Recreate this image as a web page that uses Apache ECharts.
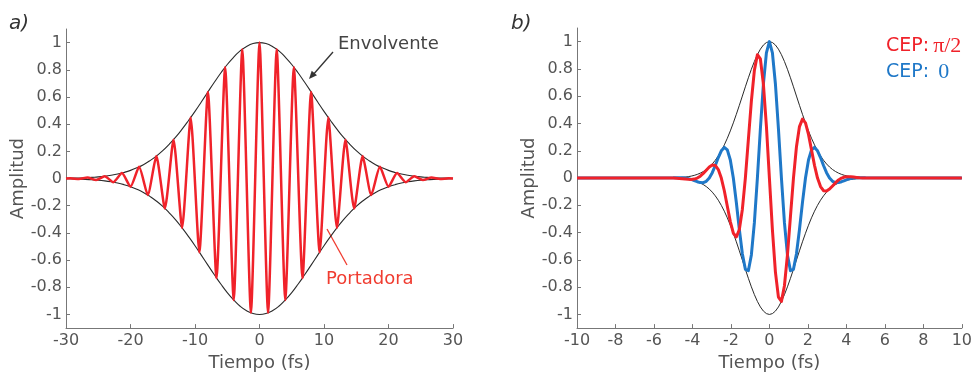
<!DOCTYPE html>
<html><head><meta charset="utf-8">
<script src="https://cdn.jsdelivr.net/npm/echarts@6/dist/echarts.min.js"></script>
<style>html,body{margin:0;padding:0;background:#fff}#c{width:975px;height:377px}</style>
</head><body><div id="c"></div>
<script>
// ---- Panel a) ----
const envA_t = [-30,-29,-28,-27,-26,-25,-24,-23,-22,-21,-20,-19,-18,-17,-16,-15,-14,-13,-12,-11,-10,-9,-8,-7,-6,-5,-4,-3,-2,-1,0,1,2,3,4,5,6,7,8,9,10,11,12,13,14,15,16,17,18,19,20,21,22,23,24,25,26,27,28,29,30];
const envA_up = [0.002,0.003,0.004,0.006,0.009,0.012,0.017,0.024,0.033,0.045,0.060,0.079,0.102,0.131,0.165,0.205,0.252,0.304,0.363,0.427,0.494,0.565,0.637,0.708,0.776,0.839,0.893,0.939,0.972,0.993,1,0.993,0.972,0.939,0.893,0.839,0.776,0.708,0.637,0.565,0.494,0.427,0.363,0.304,0.252,0.205,0.165,0.131,0.102,0.079,0.060,0.045,0.033,0.024,0.017,0.012,0.009,0.006,0.004,0.003,0.002];
const envA_low = [-0.002,-0.003,-0.004,-0.006,-0.009,-0.012,-0.017,-0.024,-0.033,-0.045,-0.060,-0.079,-0.102,-0.131,-0.165,-0.205,-0.252,-0.304,-0.363,-0.427,-0.494,-0.565,-0.637,-0.708,-0.776,-0.839,-0.893,-0.939,-0.972,-0.993,-1,-0.993,-0.972,-0.939,-0.893,-0.839,-0.776,-0.708,-0.637,-0.565,-0.494,-0.427,-0.363,-0.304,-0.252,-0.205,-0.165,-0.131,-0.102,-0.079,-0.060,-0.045,-0.033,-0.024,-0.017,-0.012,-0.009,-0.006,-0.004,-0.003,-0.002];
const carrierA_t = [-30,-29.33,-28,-26.67,-25.33,-24,-22.67,-21.33,-20,-18.67,-17.33,-16,-14.67,-13.33,-12,-10.67,-9.33,-8,-6.67,-5.33,-4,-2.67,-1.33,0,1.33,2.67,4,5.33,6.67,8,9.33,10.67,12,13.33,14.67,16,17.33,18.67,20,21.33,22.67,24,25.33,26.67,28,29.33,30];
const carrierA = [0,0.002,-0.004,0.007,-0.011,0.017,-0.027,0.040,-0.060,0.086,-0.121,0.165,-0.220,0.286,-0.363,0.449,-0.542,0.637,-0.731,0.819,-0.893,0.951,-0.988,1,-0.988,0.951,-0.893,0.819,-0.731,0.637,-0.542,0.449,-0.363,0.286,-0.220,0.165,-0.121,0.086,-0.060,0.040,-0.027,0.017,-0.011,0.007,-0.004,0.002,0];

// ---- Panel b) ----
const tB = [-10,-5,-4.84375,-4.6875,-4.53125,-4.375,-4.21875,-4.0625,-3.90625,-3.75,-3.59375,-3.4375,-3.28125,-3.125,-2.96875,-2.8125,-2.65625,-2.5,-2.34375,-2.1875,-2.03125,-1.875,-1.71875,-1.5625,-1.40625,-1.25,-1.09375,-0.9375,-0.78125,-0.625,-0.46875,-0.3125,-0.15625,0,0.15625,0.3125,0.46875,0.625,0.78125,0.9375,1.09375,1.25,1.40625,1.5625,1.71875,1.875,2.03125,2.1875,2.34375,2.5,2.65625,2.8125,2.96875,3.125,3.28125,3.4375,3.59375,3.75,3.90625,4.0625,4.21875,4.375,4.53125,4.6875,4.84375,5,10];
const envB_up = [0,0.0016,0.0024,0.0035,0.0051,0.0072,0.0102,0.0143,0.0197,0.0268,0.0360,0.0477,0.0625,0.0809,0.1034,0.1305,0.1626,0.2000,0.2431,0.2917,0.3457,0.4045,0.4674,0.5334,0.6010,0.6688,0.7349,0.7975,0.8546,0.9043,0.9450,0.9752,0.9937,1,0.9937,0.9752,0.9450,0.9043,0.8546,0.7975,0.7349,0.6688,0.6010,0.5334,0.4674,0.4045,0.3457,0.2917,0.2431,0.2000,0.1626,0.1305,0.1034,0.0809,0.0625,0.0477,0.0360,0.0268,0.0197,0.0143,0.0102,0.0072,0.0051,0.0035,0.0024,0.0016,0];
const envB_low = [0,-0.0016,-0.0024,-0.0035,-0.0051,-0.0072,-0.0102,-0.0143,-0.0197,-0.0268,-0.0360,-0.0477,-0.0625,-0.0809,-0.1034,-0.1305,-0.1626,-0.2000,-0.2431,-0.2917,-0.3457,-0.4045,-0.4674,-0.5334,-0.6010,-0.6688,-0.7349,-0.7975,-0.8546,-0.9043,-0.9450,-0.9752,-0.9937,-1,-0.9937,-0.9752,-0.9450,-0.9043,-0.8546,-0.7975,-0.7349,-0.6688,-0.6010,-0.5334,-0.4674,-0.4045,-0.3457,-0.2917,-0.2431,-0.2000,-0.1626,-0.1305,-0.1034,-0.0809,-0.0625,-0.0477,-0.0360,-0.0268,-0.0197,-0.0143,-0.0102,-0.0072,-0.0051,-0.0035,-0.0024,-0.0016,0];
const cep0 = [0,0.0016,0.0022,0.0025,0.0019,0,-0.0039,-0.0101,-0.0182,-0.0268,-0.0332,-0.0338,-0.0239,0,0.0396,0.0923,0.1502,0.2000,0.2246,0.2063,0.1323,0,-0.1789,-0.3772,-0.5552,-0.6688,-0.6789,-0.5639,-0.3270,0,0.3616,0.6896,0.9181,1,0.9181,0.6896,0.3616,0,-0.3270,-0.5639,-0.6789,-0.6688,-0.5552,-0.3772,-0.1789,0,0.1323,0.2063,0.2246,0.2000,0.1502,0.0923,0.0396,0,-0.0239,-0.0338,-0.0332,-0.0268,-0.0182,-0.0101,-0.0039,0,0.0019,0.0025,0.0022,0.0016,0];
const cepPi2 = [0,0,-0.0009,-0.0025,-0.0047,-0.0072,-0.0095,-0.0101,-0.0075,0,0.0138,0.0338,0.0578,0.0809,0.0955,0.0923,0.0622,0,-0.0930,-0.2063,-0.3193,-0.4045,-0.4318,-0.3772,-0.2300,0,0.2812,0.5639,0.7895,0.9043,0.8731,0.6896,0.3803,0,-0.3803,-0.6896,-0.8731,-0.9043,-0.7895,-0.5639,-0.2812,0,0.2300,0.3772,0.4318,0.4045,0.3193,0.2063,0.0930,0,-0.0622,-0.0923,-0.0955,-0.0809,-0.0578,-0.0338,-0.0138,0,0.0075,0.0101,0.0095,0.0072,0.0047,0.0025,0.0009,0,0];

// ---- Ticks ----
const yTicks = [-1,-0.8,-0.6,-0.4,-0.2,0,0.2,0.4,0.6,0.8,1];

const FONT = 'DejaVu Sans';
const RED = '#f0222a';
const BLUE = '#1f78c8';
const ENV = '#2a2a2a';

const pairs = (xs, ys) => xs.map((x, i) => [x, ys[i]]);

function xAx(idx, min, max, interval) {
  return {
    type: 'value', gridIndex: idx, min: min, max: max, interval: interval,
    name: 'Tiempo (fs)', nameLocation: 'middle', nameGap: 25,
    nameTextStyle: { fontFamily: FONT, fontSize: 18, color: '#555' },
    axisLine: { show: true, onZero: false, lineStyle: { color: '#777', width: 1 } },
    axisTick: { show: true, inside: true, length: 4, lineStyle: { color: '#777' } },
    axisLabel: { fontFamily: FONT, fontSize: 16, color: '#555', margin: 5 },
    splitLine: { show: false }
  };
}
function yAx(idx) {
  return {
    type: 'value', gridIndex: idx, min: -1.1, max: 1.1,
    name: 'Amplitud', nameLocation: 'middle', nameGap: 35, nameRotate: 90,
    nameTextStyle: { fontFamily: FONT, fontSize: 18, color: '#555' },
    axisLine: { show: true, onZero: false, lineStyle: { color: '#777', width: 1 } },
    axisTick: { show: true, inside: true, length: 4, customValues: yTicks, lineStyle: { color: '#777' } },
    axisLabel: { fontFamily: FONT, fontSize: 16, color: '#555', margin: 4, customValues: yTicks },
    splitLine: { show: false }
  };
}

const chart = echarts.init(document.getElementById('c'), null, { renderer: 'canvas' });
chart.setOption({
  animation: false,
  backgroundColor: '#fff',
  grid: [
    { left: 66, right: 522, top: 29, bottom: 43 },
    { left: 577, right: 11, top: 28, bottom: 44 }
  ],
  xAxis: [xAx(0, -30, 30, 10), xAx(1, -10, 10, 2)],
  yAxis: [yAx(0), yAx(1)],
  series: [
    { type: 'line', xAxisIndex: 0, yAxisIndex: 0, data: pairs(envA_t, envA_up), smooth: true, showSymbol: false, lineStyle: { color: ENV, width: 1.1 }, z: 2 },
    { type: 'line', xAxisIndex: 0, yAxisIndex: 0, data: pairs(envA_t, envA_low), smooth: true, showSymbol: false, lineStyle: { color: ENV, width: 1.1 }, z: 2 },
    { type: 'line', xAxisIndex: 0, yAxisIndex: 0, data: pairs(carrierA_t, carrierA), smooth: 0.2, showSymbol: false, lineStyle: { color: RED, width: 2.5 }, z: 3 },
    { type: 'line', xAxisIndex: 1, yAxisIndex: 1, data: pairs(tB, envB_up), smooth: false, showSymbol: false, lineStyle: { color: ENV, width: 1 }, z: 2 },
    { type: 'line', xAxisIndex: 1, yAxisIndex: 1, data: pairs(tB, envB_low), smooth: false, showSymbol: false, lineStyle: { color: ENV, width: 1 }, z: 2 },
    { type: 'line', xAxisIndex: 1, yAxisIndex: 1, data: pairs(tB, cep0), smooth: false, showSymbol: false, lineStyle: { color: BLUE, width: 3, join: 'round' }, z: 3 },
    { type: 'line', xAxisIndex: 1, yAxisIndex: 1, data: pairs(tB, cepPi2), smooth: false, showSymbol: false, lineStyle: { color: RED, width: 3, join: 'round' }, z: 4 }
  ],
  graphic: [
    { type: 'text', left: 9, top: 14, style: { text: 'a)', font: 'italic 20px "DejaVu Sans"', fill: '#333' } },
    { type: 'text', left: 511, top: 14, style: { text: 'b)', font: 'italic 20px "DejaVu Sans"', fill: '#333' } },
    { type: 'text', x: 338, y: 44, style: { text: 'Envolvente', font: '18px "DejaVu Sans"', fill: '#444', verticalAlign: 'middle' } },
    { type: 'polyline', shape: { points: [[333, 52], [312, 76]] }, style: { stroke: '#333', lineWidth: 1.3 } },
    { type: 'polygon', shape: { points: [[309, 79], [317, 75.3], [311.7, 70.7]] }, style: { fill: '#333' } },
    { type: 'text', x: 326, y: 279, style: { text: 'Portadora', font: '18px "DejaVu Sans"', fill: '#f03c30', verticalAlign: 'middle' } },
    { type: 'polyline', shape: { points: [[347, 265], [327, 229]] }, style: { stroke: '#f03c30', lineWidth: 1.3 } },
    { type: 'text', x: 886, y: 46, style: {
        text: '{a|CEP:}{b|π/2}', verticalAlign: 'middle',
        rich: { a: { fontFamily: FONT, fontSize: 19, fill: RED, color: RED },
                b: { fontFamily: 'Liberation Serif', fontSize: 22, fill: RED, color: RED, padding: [0,0,0,4] } } } },
    { type: 'text', x: 886, y: 72, style: {
        text: '{a|CEP:}{b|0}', verticalAlign: 'middle',
        rich: { a: { fontFamily: FONT, fontSize: 19, fill: BLUE, color: BLUE },
                b: { fontFamily: 'Liberation Serif', fontSize: 22, fill: BLUE, color: BLUE, padding: [0,0,0,9] } } } }
  ]
});
</script>
</body></html>
